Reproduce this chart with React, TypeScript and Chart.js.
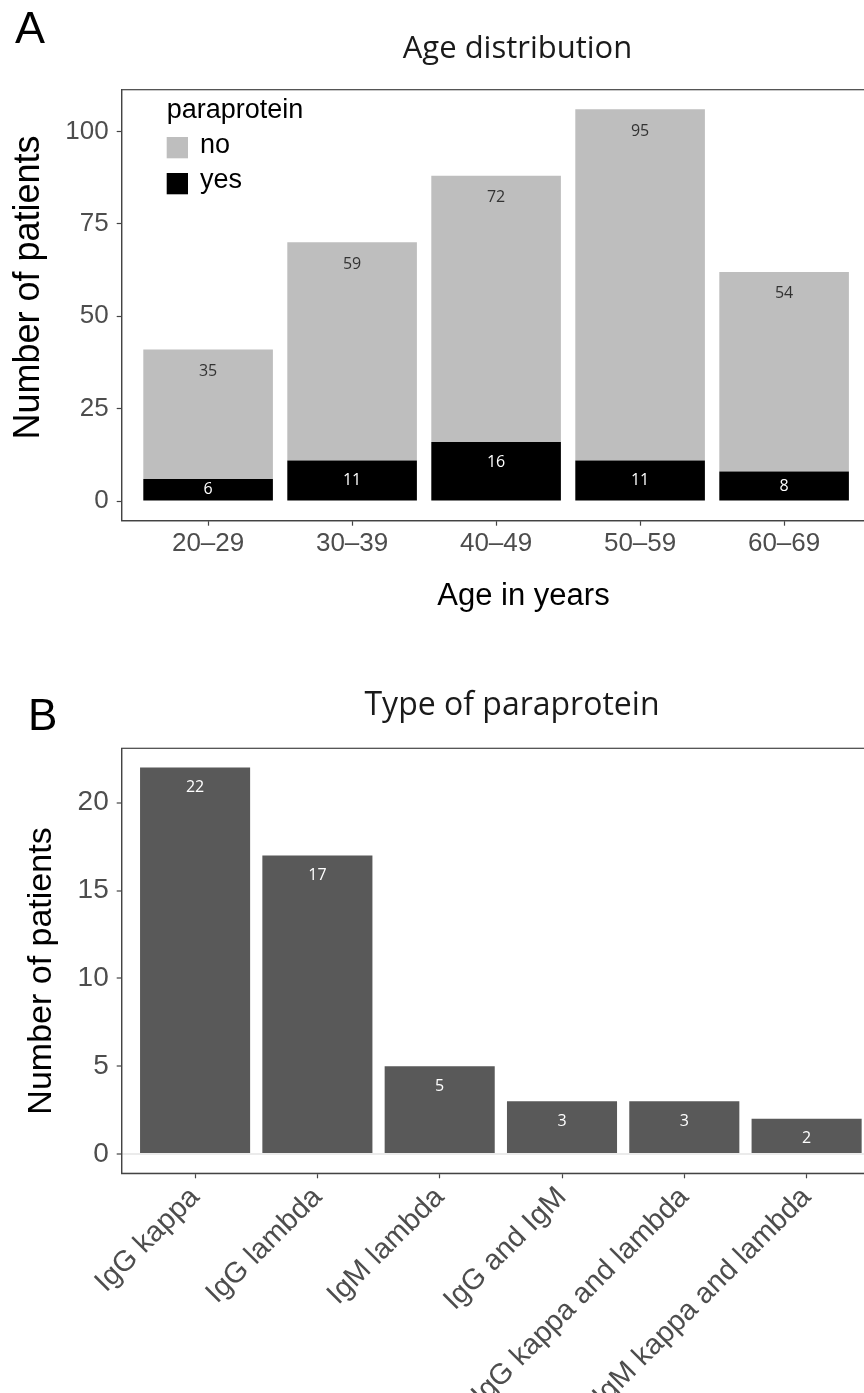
import React, { useEffect, useRef } from 'react';
import { Chart, registerables } from 'chart.js';

Chart.register(...registerables);

// ---- Data: panel A (age distribution) ----
const ageGroups = ['20–29', '30–39', '40–49', '50–59', '60–69'];
const noCounts = [35, 59, 72, 95, 54];
const yesCounts = [6, 11, 16, 11, 8];
const ageTicks = [0, 25, 50, 75, 100];
const legendTitle = 'paraprotein';
const legendLabels = ['no', 'yes'];

// ---- Data: panel B (type of paraprotein) ----
const paraTypes = [
  'IgG kappa',
  'IgG lambda',
  'IgM lambda',
  'IgG and IgM',
  'IgG kappa and lambda',
  'IgM kappa and lambda',
];
const paraCounts = [22, 17, 5, 3, 3, 2];
const paraTicks = [0, 5, 10, 15, 20];

// ---- Styles ----
const SANS = '"Liberation Sans", Arial, Helvetica, sans-serif';
const OPEN = '"Open Sans", "DejaVu Sans", sans-serif';
const AXIS = '#444444';
const TICK = '#4d4d4d';
const NO_COLOR = '#bebebe';
const YES_COLOR = '#000000';
const B_COLOR = '#595959';

const W = 900;
const A_H = 660;
const B_H = 713;
const B_TOP = 680;

// panel A geometry
const A_LEFT = 121.7;
const A_RIGHT = 870.5;
const A_TOPPX = 89.7;
const A_BOTTOM = 520.7;
// panel B geometry (canvas coords)
const B_LEFT = 121.7;
const B_RIGHT = 880;
const B_TOPPX = 68.3;
const B_BOTTOM = 493.3;

function axisGrid() {
  return {
    offset: false,
    drawOnChartArea: false,
    drawTicks: true,
    tickLength: 5,
    tickColor: AXIS,
    tickWidth: 1.2,
  };
}

function drawVerticalTitle(ctx: CanvasRenderingContext2D, text: string, x: number, y: number, size: number) {
  ctx.save();
  ctx.translate(x, y);
  ctx.rotate(-Math.PI / 2);
  ctx.textAlign = 'center';
  ctx.textBaseline = 'middle';
  ctx.font = `${size}px ${SANS}`;
  ctx.fillStyle = '#000';
  ctx.fillText(text, 0, 0);
  ctx.restore();
}

const panelAPlugin = {
  id: 'panelA',
  afterDraw(chart: any) {
    const { ctx, chartArea: ca } = chart;
    ctx.save();
    ctx.strokeStyle = AXIS;
    ctx.lineWidth = 1.2;
    ctx.strokeRect(ca.left, ca.top, ca.right - ca.left, ca.bottom - ca.top);

    // bar value labels
    ctx.textAlign = 'center';
    ctx.textBaseline = 'middle';
    ctx.font = `16px ${OPEN}`;
    const yesMeta = chart.getDatasetMeta(0);
    const noMeta = chart.getDatasetMeta(1);
    yesMeta.data.forEach((el: any, i: number) => {
      const h = el.base - el.y;
      ctx.fillStyle = '#ffffff';
      ctx.fillText(String(yesCounts[i]), el.x, el.y + Math.min(20, h / 2));
    });
    noMeta.data.forEach((el: any, i: number) => {
      ctx.fillStyle = '#333333';
      ctx.fillText(String(noCounts[i]), el.x, el.y + 22);
    });

    // panel letter
    ctx.textAlign = 'left';
    ctx.textBaseline = 'alphabetic';
    ctx.fillStyle = '#000';
    ctx.font = `45px ${SANS}`;
    ctx.fillText('A', 15, 43);

    // title
    ctx.textAlign = 'center';
    ctx.font = `31px ${OPEN}`;
    ctx.fillStyle = '#1a1a1a';
    ctx.fillText('Age distribution', 517.5, 58);

    // x title
    ctx.font = `31px ${SANS}`;
    ctx.fillStyle = '#000';
    ctx.fillText('Age in years', 523.5, 605);

    // y title
    drawVerticalTitle(ctx, 'Number of patients', 29.5, 287.5, 36);

    // legend
    ctx.textAlign = 'left';
    ctx.textBaseline = 'alphabetic';
    ctx.font = `27px ${SANS}`;
    ctx.fillStyle = '#000';
    ctx.fillText(legendTitle, 166.7, 118);
    const keyColors = [NO_COLOR, YES_COLOR];
    const keyTops = [137, 173];
    const labelBase = [153, 188];
    legendLabels.forEach((lab, i) => {
      ctx.fillStyle = keyColors[i];
      ctx.fillRect(166.7, keyTops[i], 21.3, 21.3);
      ctx.fillStyle = '#000';
      ctx.fillText(lab, 200, labelBase[i]);
    });
    ctx.restore();
  },
};

const panelBPlugin = {
  id: 'panelB',
  afterDraw(chart: any) {
    const { ctx, chartArea: ca } = chart;
    ctx.save();
    ctx.strokeStyle = AXIS;
    ctx.lineWidth = 1.2;
    ctx.strokeRect(ca.left, ca.top, ca.right - ca.left, ca.bottom - ca.top);

    ctx.textAlign = 'center';
    ctx.textBaseline = 'middle';
    ctx.font = `16px ${OPEN}`;
    ctx.fillStyle = '#ffffff';
    const meta = chart.getDatasetMeta(0);
    meta.data.forEach((el: any, i: number) => {
      ctx.fillText(String(paraCounts[i]), el.x, el.y + 20);
    });

    ctx.textAlign = 'left';
    ctx.textBaseline = 'alphabetic';
    ctx.fillStyle = '#000';
    ctx.font = `44px ${SANS}`;
    ctx.fillText('B', 28, 50);

    ctx.textAlign = 'center';
    ctx.font = `32px ${OPEN}`;
    ctx.fillStyle = '#1a1a1a';
    ctx.fillText('Type of paraprotein', 512, 35);

    drawVerticalTitle(ctx, 'Number of patients', 41.2, 971 - B_TOP, 34);
    ctx.restore();
  },
};

function configA(): any {
  return {
    type: 'bar',
    data: {
      datasets: [
        {
          label: legendLabels[1],
          data: yesCounts.map((v, i) => ({ x: i, y: v })),
          backgroundColor: YES_COLOR,
          borderWidth: 0,
          categoryPercentage: 0.9,
          barPercentage: 1,
        },
        {
          label: legendLabels[0],
          data: noCounts.map((v, i) => ({ x: i, y: v })),
          backgroundColor: NO_COLOR,
          borderWidth: 0,
          categoryPercentage: 0.9,
          barPercentage: 1,
        },
      ],
    },
    options: {
      responsive: false,
      maintainAspectRatio: false,
      animation: false,
      events: [],
      layout: { padding: { left: 0, top: A_TOPPX, right: W - A_RIGHT, bottom: 0 } },
      plugins: { legend: { display: false }, tooltip: { enabled: false }, title: { display: false } },
      scales: {
        x: {
          type: 'linear',
          offset: false,
          min: -0.6,
          max: ageGroups.length - 0.4,
          stacked: true,
          afterBuildTicks: (s: any) => {
            s.ticks = ageGroups.map((_, i) => ({ value: i }));
          },
          ticks: {
            callback: (v: any) => ageGroups[v] ?? '',
            font: { family: SANS, size: 26 },
            color: TICK,
            padding: 3,
            maxRotation: 0,
            minRotation: 0,
            autoSkip: false,
          },
          grid: axisGrid(),
          border: { display: true, color: AXIS, width: 1.2 },
          afterFit: (s: any) => {
            s.height = A_H - A_BOTTOM;
          },
        },
        y: {
          type: 'linear',
          min: -5.3,
          max: 111.3,
          stacked: true,
          afterBuildTicks: (s: any) => {
            s.ticks = ageTicks.map((v) => ({ value: v }));
          },
          ticks: { font: { family: SANS, size: 26 }, color: TICK, padding: 8 },
          grid: axisGrid(),
          border: { display: true, color: AXIS, width: 1.2 },
          title: { display: false },
          afterFit: (s: any) => {
            s.width = A_LEFT;
          },
        },
      },
    },
    plugins: [panelAPlugin],
  };
}

function configB(): any {
  return {
    type: 'bar',
    data: {
      datasets: [
        {
          label: 'Number of patients',
          data: paraCounts.map((v, i) => ({ x: i, y: v })),
          backgroundColor: B_COLOR,
          borderWidth: 0,
          categoryPercentage: 0.9,
          barPercentage: 1,
        },
      ],
    },
    options: {
      responsive: false,
      maintainAspectRatio: false,
      animation: false,
      events: [],
      layout: { padding: { left: 0, top: B_TOPPX, right: W - B_RIGHT, bottom: 0 } },
      plugins: { legend: { display: false }, tooltip: { enabled: false }, title: { display: false } },
      scales: {
        x: {
          type: 'linear',
          offset: false,
          min: -0.6,
          max: paraTypes.length - 0.4,
          afterBuildTicks: (s: any) => {
            s.ticks = paraTypes.map((_, i) => ({ value: i }));
          },
          ticks: {
            callback: (v: any) => paraTypes[v] ?? '',
            font: { family: SANS, size: 29 },
            color: TICK,
            padding: 2,
            maxRotation: 45,
            minRotation: 45,
            autoSkip: false,
          },
          grid: axisGrid(),
          border: { display: true, color: AXIS, width: 1.2 },
          afterFit: (s: any) => {
            s.height = B_H - B_BOTTOM;
          },
        },
        y: {
          type: 'linear',
          min: -1.1,
          max: 23.1,
          afterBuildTicks: (s: any) => {
            s.ticks = paraTicks.map((v) => ({ value: v }));
          },
          ticks: { font: { family: SANS, size: 28 }, color: TICK, padding: 8 },
          grid: {
            offset: false,
            drawOnChartArea: true,
            drawTicks: true,
            tickLength: 5,
            tickColor: AXIS,
            tickWidth: 1.2,
            lineWidth: 2,
            color: (c: any) => (c.tick && c.tick.value === 0 ? '#ebebeb' : 'rgba(0,0,0,0)'),
          },
          border: { display: true, color: AXIS, width: 1.2 },
          title: { display: false },
          afterFit: (s: any) => {
            s.width = B_LEFT;
          },
        },
      },
    },
    plugins: [panelBPlugin],
  };
}

export default function App() {
  const refA = useRef<HTMLCanvasElement>(null);
  const refB = useRef<HTMLCanvasElement>(null);

  useEffect(() => {
    const a = new Chart(refA.current as HTMLCanvasElement, configA());
    const b = new Chart(refB.current as HTMLCanvasElement, configB());
    return () => {
      a.destroy();
      b.destroy();
    };
  }, []);

  return (
    <div
      style={{
        position: 'absolute',
        left: 0,
        top: 0,
        width: 864,
        height: 1393,
        overflow: 'hidden',
        background: '#ffffff',
      }}
    >
      <canvas
        ref={refA}
        width={W}
        height={A_H}
        style={{ position: 'absolute', left: 0, top: 0, width: W, height: A_H }}
      />
      <canvas
        ref={refB}
        width={W}
        height={B_H}
        style={{ position: 'absolute', left: 0, top: B_TOP, width: W, height: B_H }}
      />
    </div>
  );
}
